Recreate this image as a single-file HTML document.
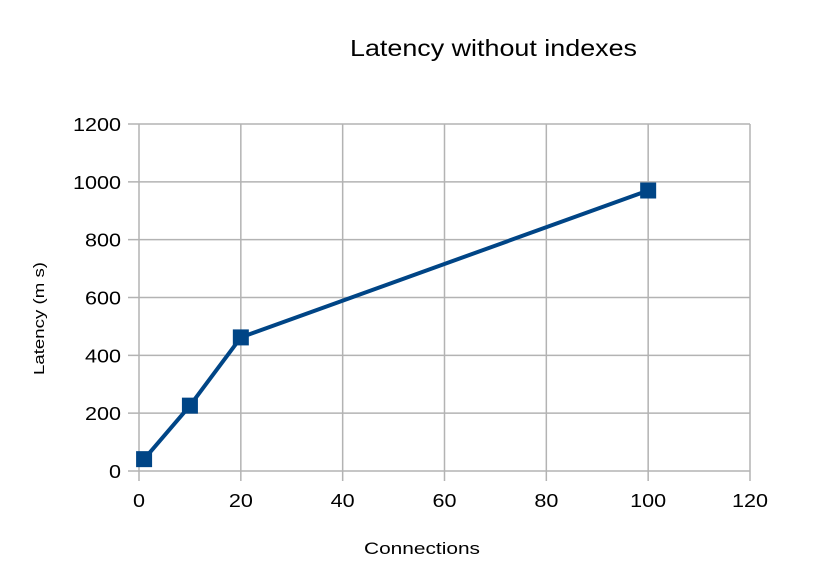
<!DOCTYPE html>
<html><head><meta charset="utf-8"><style>
html,body{margin:0;padding:0;background:#fff;}
svg{display:block;font-family:"Liberation Sans",sans-serif;}
</style></head><body>
<svg id="chart" width="814" height="586">
<text x="350" y="56" font-size="23" textLength="287" lengthAdjust="spacingAndGlyphs" fill="#000">Latency without indexes</text>
<g id="grid"></g>
<g id="ticks"></g>
<text x="364" y="554" font-size="17" textLength="116" lengthAdjust="spacingAndGlyphs" fill="#000">Connections</text>
<text transform="translate(44,375) rotate(-90)" font-size="15" textLength="113" lengthAdjust="spacingAndGlyphs" fill="#000">Latency (m s)</text>
<g id="series"></g>
</svg>
<script>
const xTicks=[0,20,40,60,80,100,120];
const yTicks=[0,200,400,600,800,1000,1200];
const connections=[1,10,20,100];
const latency=[41,226,462,970];
const NS="http://www.w3.org/2000/svg";
const X0=139,X1=750,Y0=471,Y1=124;
function sx(v){return X0+(v-0)/(120-0)*(X1-X0);}
function sy(v){return Y0-(v-0)/(1200-0)*(Y0-Y1);}
function mk(tag,attrs,parent){const e=document.createElementNS(NS,tag);for(const k in attrs)e.setAttribute(k,attrs[k]);parent.appendChild(e);return e;}
const grid=document.getElementById('grid'),ticks=document.getElementById('ticks'),series=document.getElementById('series');
yTicks.forEach(v=>{
  const l=mk('line',{x1:128,x2:X1,y1:sy(v),y2:sy(v),stroke:'#b3b3b3','stroke-width':1.5},grid);
  
  
  const s=String(v);
  const w=s.length*12;
  const t=mk('text',{x:121-w,y:sy(v)+7,'font-size':18,textLength:w,lengthAdjust:'spacingAndGlyphs',fill:'#000'},ticks);
  t.textContent=s;
  
  
});
xTicks.forEach(v=>{
  const l=mk('line',{x1:sx(v),x2:sx(v),y1:Y1,y2:Y0+10,stroke:'#b3b3b3','stroke-width':1.5},grid);
  
  
  const s=String(v);
  const w=s.length*12;
  const t=mk('text',{x:sx(v)-w/2,y:507,'font-size':18,textLength:w,lengthAdjust:'spacingAndGlyphs',fill:'#000'},ticks);
  t.textContent=s;
  
  
});
const pts=connections.map((c,i)=>sx(c)+','+sy(latency[i])).join(' ');
const pl=mk('polyline',{points:pts,fill:'none',stroke:'#004586','stroke-width':4,'stroke-linejoin':'round'},series);


connections.forEach((c,i)=>{
  const r=mk('rect',{x:sx(c)-8,y:sy(latency[i])-8,width:16,height:16,fill:'#004586'},series);
  
  
});
</script>
</body></html>
